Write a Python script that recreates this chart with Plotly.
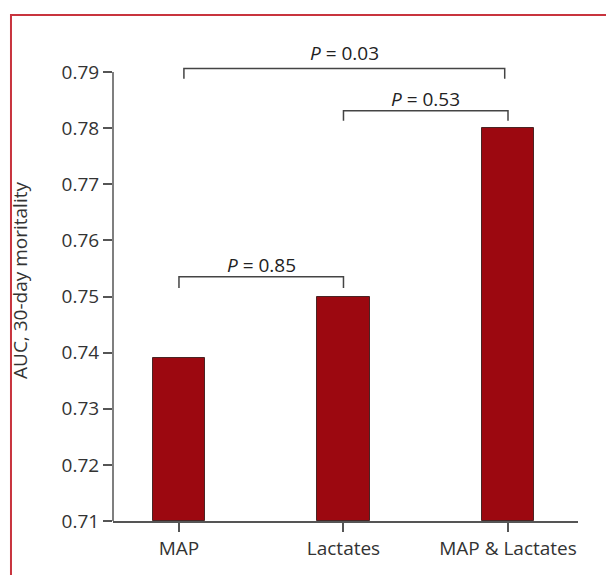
import plotly.graph_objects as go

categories = ["MAP", "Lactates", "MAP & Lactates"]
auc_values = [0.739, 0.750, 0.780]
y_ticks = [0.71, 0.72, 0.73, 0.74, 0.75, 0.76, 0.77, 0.78, 0.79]
comparisons = [  # (from index, to index, label)
    (0, 1, "0.85"),
    (1, 2, "0.53"),
    (0, 2, "0.03"),
]

FONT = "Open Sans, Noto Sans, sans-serif"
FS = 19
AX = "#555555"
xpos = list(range(len(categories)))

fig = go.Figure()
fig.add_trace(go.Bar(
    x=xpos, y=[v - 0.71 for v in auc_values], base=0.71, width=0.32,
    marker=dict(color="#9c0810", line=dict(color="#4a2424", width=1)),
    hoverinfo="skip", showlegend=False,
))

shapes = []
annotations = []
# y axis line (ends at top tick)
shapes.append(dict(type="line", xref="paper", yref="y", x0=0, x1=0,
                   y0=y_ticks[0], y1=y_ticks[-1], line=dict(color=AX, width=1.5)))
# red frame (partly outside)
shapes.append(dict(type="rect", xref="paper", yref="paper",
                   x0=-0.2194, x1=1.3, y0=-0.3, y1=1.052,
                   line=dict(color="#c8343e", width=2), layer="below"))

bracket_y = {("0", "1"): (0.7535, 0.7515), ("1", "2"): (0.7831, 0.7813), ("0", "2"): (0.7906, 0.7888)}
label_y = {("0", "1"): 0.7556, ("1", "2"): 0.7852, ("0", "2"): 0.7934}
for a, b, lab in comparisons:
    key = (str(a), str(b))
    ytop, ybot = bracket_y[key]
    xa, xb = (a, b) if not (a == 0 and b == 2) else (a + 0.03, b - 0.02)
    shapes.append(dict(type="path", xref="x", yref="y",
                       path=f"M {xa},{ybot} L {xa},{ytop} L {xb},{ytop} L {xb},{ybot}",
                       line=dict(color="#444444", width=1.5)))
    annotations.append(dict(x=(xa + xb) / 2, y=label_y[key], xref="x", yref="y",
                            text=f"<i>P</i> = {lab}", showarrow=False,
                            font=dict(family=FONT, size=FS, color="#222222"),
                            yanchor="middle"))

fig.update_layout(
    width=606, height=575,
    margin=dict(l=113, r=28, t=40, b=54),
    paper_bgcolor="white", plot_bgcolor="white",
    font=dict(family=FONT, size=FS, color="#333333"),
    shapes=shapes, annotations=annotations,
    bargap=0,
    xaxis=dict(range=[-0.401, 2.4255], tickvals=xpos, ticktext=categories,
               showline=True, linecolor=AX, linewidth=1.5,
               ticks="outside", ticklen=9, tickcolor=AX, tickwidth=1.5,
               showgrid=False, zeroline=False, fixedrange=True,
               tickfont=dict(size=FS, color="#333333")),
    yaxis=dict(range=[0.71, 0.7957], tickvals=y_ticks,
               ticktext=[f"{v:.2f}" for v in y_ticks],
               showline=False, ticks="outside", ticklen=9, tickcolor=AX, tickwidth=1.5,
               showgrid=False, zeroline=False, fixedrange=True,
               tickfont=dict(size=FS, color="#333333"),
               title=dict(text="AUC, 30-day moritality", font=dict(size=FS, color="#333333"),
                          standoff=28)),
)

fig.write_html("out.html", config={"displayModeBar": False},
               post_script="document.body.style.margin='0';")
